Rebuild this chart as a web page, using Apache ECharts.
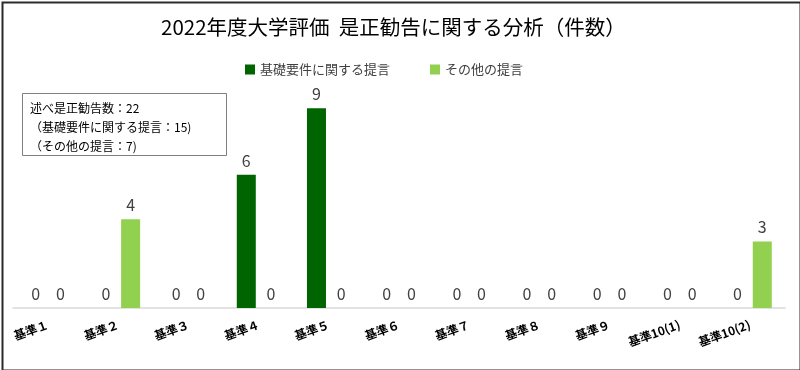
<!DOCTYPE html>
<html><head><meta charset="utf-8">
<script src="https://cdn.jsdelivr.net/npm/echarts@6/dist/echarts.min.js"></script>
<style>html,body{margin:0;padding:0;background:#fff}#c{width:800px;height:370px}</style>
</head><body><div id="c"></div>
<script>
const categories = ['基準１','基準２','基準３','基準４','基準５','基準６','基準７','基準８','基準９','基準10(1)','基準10(2)'];
const basicProposals = [0,0,0,6,9,0,0,0,0,0,0];
const otherProposals = [0,4,0,0,0,0,0,0,0,0,3];
const seriesNames = ['基礎要件に関する提言','その他の提言'];
const noteLines = ['述べ是正勧告数：22','（基礎要件に関する提言：15)','（その他の提言：7)'];
const titleText = '2022年度大学評価  是正勧告に関する分析（件数）';

const font = '"Noto Sans CJK JP", "Noto Sans", sans-serif';
const chart = echarts.init(document.getElementById('c'));
const lbl = {show:true, position:'top', distance:6, color:'#404040', fontSize:16, fontFamily:font};
chart.setOption({
  animation:false,
  textStyle:{fontFamily:font},
  title:{text:titleText, left:156, top:12, textStyle:{fontSize:20.5, fontWeight:'normal', color:'#000', fontFamily:font}},
  legend:{top:58, left:240, itemWidth:10, itemHeight:10, itemGap:40, icon:'rect',
    textStyle:{fontSize:13, color:'#404040', fontFamily:font}, data:seriesNames},
  grid:{left:13, right:15, top:86, bottom:62, containLabel:false},
  xAxis:{type:'category', data:categories,
    axisLine:{lineStyle:{color:'#d9d9d9', width:1.5}}, axisTick:{show:false},
    axisLabel:{rotate:20, fontSize:12, fontWeight:'bold', color:'#000', margin:16, interval:0, fontFamily:font}},
  yAxis:{type:'value', min:0, max:10, show:false, splitLine:{show:false}},
  series:[
    {name:seriesNames[0], type:'bar', data:basicProposals, barWidth:19, barGap:'30%',
      itemStyle:{color:'#006400'}, label:lbl},
    {name:seriesNames[1], type:'bar', data:otherProposals, barWidth:19,
      itemStyle:{color:'#92d050'}, label:lbl}
  ],
  graphic:[
    {type:'rect', left:0, top:0, shape:{x:1,y:1,width:798,height:368}, style:{fill:'none', stroke:'#2b2b2b', lineWidth:2}},
    {type:'rect', shape:{x:22.5,y:93.5,width:204,height:62}, style:{fill:'#fff', stroke:'#7f7f7f', lineWidth:1}},
    {type:'text', x:30, y:99, style:{text:noteLines.join('\n'), font:'12px '+font, fill:'#000', lineHeight:19}}
  ]
});
</script></body></html>
